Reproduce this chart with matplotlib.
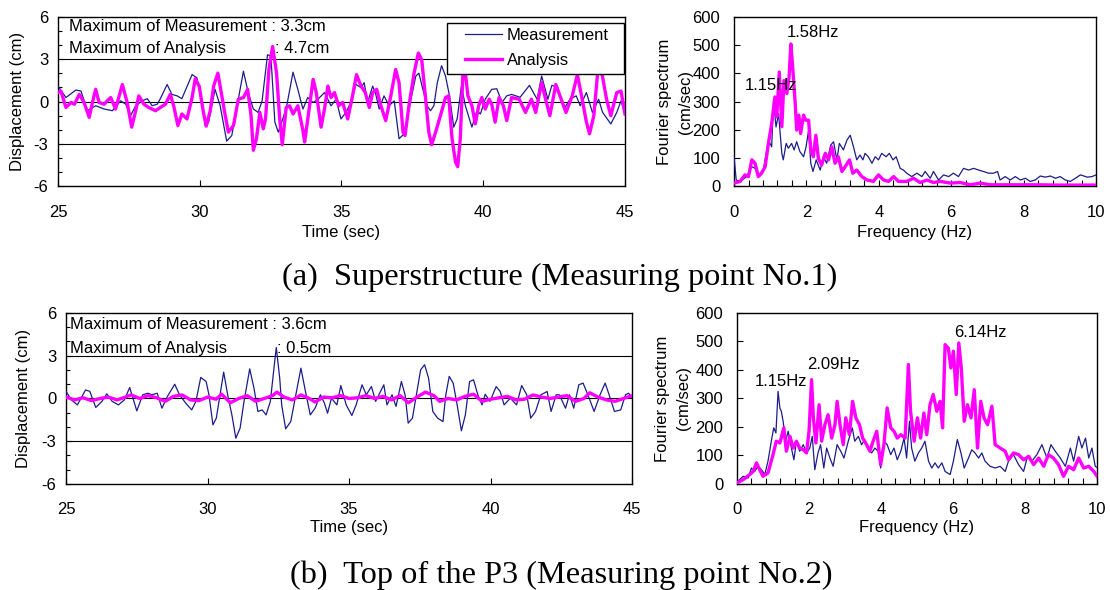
import matplotlib
matplotlib.use("Agg")
import matplotlib.pyplot as plt
from matplotlib.ticker import MultipleLocator
from matplotlib.patches import Rectangle

plt.rcParams['font.family'] = ['Liberation Sans', 'DejaVu Sans']
plt.rcParams['axes.unicode_minus'] = False

# ---- (a) superstructure, time history ----
top_meas_t = [25.0, 25.28, 25.63, 25.81, 26.04, 26.33, 26.63, 26.92, 27.21, 27.39,
              27.56, 27.74, 27.97, 28.15, 28.32, 28.5, 28.6, 28.85, 29.02, 29.2,
              29.37, 29.73, 29.9, 30.08, 30.19, 30.31, 30.54, 30.72, 30.95, 31.13,
              31.36, 31.54, 31.71, 31.89, 32.06, 32.2, 32.39, 32.51, 32.65, 32.77,
              32.9, 33.05, 33.29, 33.46, 33.64, 33.81, 34.0, 34.17, 34.4, 34.63,
              34.81, 34.98, 35.16, 35.33, 35.51, 35.69, 35.8, 35.92, 36.1, 36.21,
              36.33, 36.5, 36.68, 36.86, 37.03, 37.21, 37.44, 37.62, 37.73, 37.87,
              38.02, 38.14, 38.26, 38.38, 38.53, 38.67, 38.81, 38.96, 39.08, 39.23,
              39.37, 39.6, 39.78, 39.9, 40.07, 40.3, 40.48, 40.66, 40.83, 41.0,
              41.3, 41.63, 41.9, 42.06, 42.28, 42.42, 42.63, 42.85, 43.06, 43.28,
              43.42, 43.64, 43.85, 44.07, 44.21, 44.5, 44.71, 44.86, 45.0]
top_meas_v = [1.09, 0.28, 0.81, 0.74, -0.65, -0.3, -0.53, -0.65, 0.05, -0.19,
              -1.0, -0.3, 0.05, 0.2, -0.3, -0.19, 0.16, 1.2, 0.5, 0.4,
              0.2, 1.9, 1.67, -0.07, -1.7, -1.46, 0.86, -0.3, -2.8, -2.4,
              0.16, 2.14, 0.63, -0.53, -0.77, 0.05, 3.3, 3.2, -1.46, -2.16,
              -1.4, -0.5, 2.07, 0.86, -0.53, 0.28, -0.07, 0.16, 0.63, -0.3,
              0.16, -1.23, -0.77, -0.07, 1.2, 0.98, 1.33, -0.07, 1.09, 0.5,
              -0.53, 0.4, -0.3, 0.05, -2.63, -2.28, 0.05, 1.79, 2.0, 0.86,
              -0.3, -0.65, -0.3, 1.33, 2.53, 1.79, 0.4, -1.81, -1.23, 1.09,
              -0.3, -1.81, -0.65, -0.88, 0.16, 0.86, 0.9, -0.07, 0.4, 0.5,
              0.3, 1.14, 0.16, 1.8, 0.16, 1.14, 1.0, -0.53, 0.16, 0.4,
              -0.3, 0.63, -0.77, 0.16, -0.77, -1.58, -0.77, 0.05, -0.88]

top_anal_t = [25.0, 25.1, 25.28, 25.46, 25.58, 25.75, 25.92, 26.1, 26.27, 26.33,
              26.45, 26.63, 26.74, 26.86, 27.03, 27.27, 27.44, 27.6, 27.74, 27.85,
              28.03, 28.2, 28.44, 28.61, 28.79, 28.96, 29.08, 29.23, 29.37, 29.55,
              29.73, 29.84, 29.98, 30.13, 30.23, 30.37, 30.49, 30.64, 30.76, 30.9,
              31.01, 31.19, 31.36, 31.54, 31.69, 31.81, 31.89, 32.0, 32.12, 32.24,
              32.32, 32.44, 32.57, 32.71, 32.82, 32.91, 33.05, 33.17, 33.29, 33.46,
              33.64, 33.7, 33.81, 34.0, 34.11, 34.28, 34.4, 34.52, 34.63, 34.75,
              34.9, 35.04, 35.22, 35.39, 35.53, 35.69, 35.84, 35.98, 36.1, 36.24,
              36.39, 36.56, 36.74, 36.91, 37.03, 37.17, 37.24, 37.38, 37.56, 37.71,
              37.83, 37.97, 38.08, 38.18, 38.32, 38.49, 38.67, 38.78, 38.9, 39.02,
              39.1, 39.19, 39.28, 39.33, 39.46, 39.6, 39.72, 39.84, 39.95, 40.07,
              40.21, 40.3, 40.42, 40.56, 40.71, 40.83, 41.0, 41.27, 41.49, 41.7,
              41.85, 42.06, 42.2, 42.35, 42.56, 42.75, 42.92, 43.14, 43.32, 43.49,
              43.64, 43.75, 43.9, 44.04, 44.14, 44.35, 44.5, 44.71, 44.86, 45.0]
top_anal_v = [0.63, 0.74, -0.42, -0.07, -0.19, 0.5, -0.07, -1.12, 0.4, 0.86,
              -0.07, -0.19, 0.05, 0.28, -0.53, 1.2, -0.07, -1.81, -0.65, 0.4,
              -0.19, -0.42, -0.65, -0.42, -0.19, 0.5, -0.3, -1.7, -0.88, -1.23,
              0.28, 1.6, 1.09, -0.77, -1.74, -0.65, 1.09, 2.0, 0.63, -1.0,
              -2.16, -1.7, 0.16, 0.28, 0.86, -1.0, -3.44, -2.63, -0.77, -1.93,
              -1.23, 2.26, 3.88, 2.0, -1.23, -3.05, -0.42, -0.3, -0.88, -0.3,
              -2.05, -2.86, -1.23, 1.56, 0.63, -1.81, -0.53, 1.09, 0.28, 0.63,
              -0.3, -0.07, -1.23, 0.4, 1.9, 1.09, 0.63, -0.42, 0.63, 0.86,
              -0.3, -1.35, 0.4, 2.26, 1.33, -2.16, -2.4, -0.3, 2.0, 3.42,
              2.95, 0.16, -2.16, -3.05, -2.16, -1.0, 0.28, 0.4, -2.63, -4.26,
              -4.6, -2.63, 1.79, 2.72, 0.4, -0.3, -1.58, -0.3, 0.28, -0.53,
              0.16, -0.19, -1.46, 0.28, -0.3, -1.35, 0.28, 0.16, -0.77, 0.16,
              -0.77, 1.33, 0.16, -1.0, 1.2, 0.16, -0.77, 0.4, 1.9, 0.16,
              -1.46, -2.28, -1.0, 2.14, 2.5, 0.16, -1.0, 0.63, 0.74, -0.88]

# ---- (a) Fourier spectra ----
top_fm_f = [0, 0.06, 0.17, 0.35, 0.49, 0.58, 0.67, 0.81, 0.95, 1.04, 1.09, 1.16, 1.23,
            1.32, 1.36, 1.44, 1.5, 1.59, 1.66, 1.73, 1.82, 1.92, 1.99, 2.06, 2.12, 2.18,
            2.27, 2.38, 2.47, 2.56, 2.67, 2.75, 2.84, 2.91, 3.02, 3.12, 3.21, 3.3, 3.39,
            3.48, 3.56, 3.62, 3.71, 3.81, 3.9, 3.99, 4.08, 4.2, 4.29, 4.39, 4.48, 4.59,
            4.68, 4.77, 4.91, 5.05, 5.19, 5.28, 5.42, 5.51, 5.65, 5.79, 5.93, 6.06, 6.2,
            6.34, 6.48, 6.62, 6.76, 6.89, 7.03, 7.17, 7.28, 7.35, 7.49, 7.63, 7.77, 7.91,
            8.05, 8.18, 8.32, 8.46, 8.6, 8.74, 8.88, 9.01, 9.15, 9.29, 9.43, 9.57, 9.76,
            9.89, 10.0]
top_fm_v = [105, 23, 18, 35, 70, 64, 41, 58, 164, 140, 304, 210, 257,
            117, 94, 152, 135, 152, 129, 158, 123, 105, 140, 199, 82, 53,
            94, 58, 105, 82, 146, 158, 94, 152, 129, 164, 181, 140, 94,
            111, 94, 117, 105, 82, 105, 94, 117, 105, 117, 94, 105, 64,
            58, 47, 35, 47, 35, 53, 29, 53, 23, 41, 35, 47, 35,
            64, 58, 64, 58, 53, 47, 47, 53, 23, 35, 23, 35, 23,
            29, 18, 23, 37, 33, 37, 29, 35, 23, 18, 29, 41, 33,
            35, 41]

top_fa_f = [0, 0.17, 0.3, 0.4, 0.49, 0.58, 0.67, 0.76, 0.86, 0.95, 1.04, 1.13, 1.18,
            1.25, 1.32, 1.38, 1.46, 1.52, 1.57, 1.62, 1.69, 1.73, 1.79, 1.84, 1.92, 1.98,
            2.06, 2.12, 2.19, 2.26, 2.33, 2.42, 2.52, 2.61, 2.7, 2.79, 2.88, 2.98, 3.07,
            3.19, 3.28, 3.39, 3.53, 3.67, 3.85, 3.99, 4.13, 4.27, 4.41, 4.54, 4.77, 4.96,
            5.14, 5.33, 5.51, 5.7, 5.97, 6.25, 6.53, 6.8, 7.08, 7.54, 8.0, 8.46, 8.92,
            9.38, 10.0]
top_fa_v = [12, 18, 41, 35, 94, 82, 35, 47, 70, 152, 222, 316, 246,
            404, 211, 374, 328, 386, 503, 421, 293, 199, 252, 187, 252, 234,
            234, 129, 105, 181, 99, 76, 117, 94, 140, 82, 105, 53, 70,
            94, 47, 58, 35, 23, 18, 41, 23, 18, 35, 18, 18, 29,
            14, 23, 14, 18, 12, 14, 6, 12, 6, 6, 6, 6, 5,
            5, 5]

# ---- (b) top of P3, time history ----
bot_meas_t = [25.0, 25.19, 25.4, 25.69, 25.84, 26.05, 26.27, 26.44, 26.63, 26.85,
              27.06, 27.25, 27.5, 27.71, 27.89, 28.03, 28.22, 28.39, 28.58, 28.84,
              29.01, 29.23, 29.44, 29.59, 29.76, 29.95, 30.05, 30.19, 30.31, 30.57,
              30.71, 30.86, 31.0, 31.15, 31.29, 31.49, 31.64, 31.78, 31.93, 32.07,
              32.22, 32.36, 32.43, 32.55, 32.62, 32.76, 32.94, 33.12, 33.3, 33.46,
              33.63, 33.8, 33.99, 34.13, 34.24, 34.38, 34.57, 34.71, 34.9, 35.1,
              35.25, 35.46, 35.61, 35.79, 35.94, 36.11, 36.23, 36.34, 36.52, 36.66,
              36.85, 36.98, 37.09, 37.24, 37.38, 37.53, 37.67, 37.81, 37.96, 38.13,
              38.32, 38.42, 38.54, 38.68, 38.82, 38.97, 39.11, 39.26, 39.4, 39.55,
              39.7, 39.81, 39.98, 40.2, 40.34, 40.48, 40.7, 40.92, 41.1, 41.28,
              41.42, 41.59, 41.78, 42.0, 42.14, 42.32, 42.43, 42.65, 42.79, 42.94,
              43.12, 43.27, 43.44, 43.66, 43.87, 44.05, 44.19, 44.38, 44.6, 44.77,
              44.88, 45.0]
bot_meas_v = [0.5, -0.1, -0.45, 0.6, 0.5, -0.63, -0.2, 0.33, -0.2, -0.45,
              -0.1, 0.77, -0.87, 0.26, 0.37, 0.26, 0.37, -0.68, 0.14, 1.0,
              0.26, -0.33, -0.8, -0.2, 1.48, 1.19, 0.26, -1.85, -1.38, 1.85,
              0.26, -1.15, -2.79, -2.08, -0.2, 2.08, 0.73, -0.91, -0.8, -1.15,
              -0.2, 2.37, 3.58, 1.43, -0.45, -2.13, -1.62, 0.26, 2.13, 0.49,
              -1.15, -0.68, 0.26, -0.33, -1.03, 0.02, -0.45, 0.91, -0.45, -1.19,
              -0.45, 0.96, 0.26, 0.84, -0.2, 0.49, 0.96, -0.45, 0.26, -0.56,
              1.19, 0.26, -1.73, -1.38, 0.26, 2.01, 2.37, 1.43, -0.91, -1.38,
              -1.62, 0.26, 1.55, 1.08, -0.45, -2.27, -1.15, 1.19, 1.31, 0.26,
              -0.45, 0.3, -0.2, 0.84, 0.49, -0.45, 0.02, -0.45, 0.91, 0.26,
              -1.38, -0.91, 0.26, 0.49, -0.91, 0.26, 0.26, -0.68, 0.26, -0.68,
              0.96, 1.08, 0.26, -0.91, 0.26, 1.08, 0.26, -0.91, -0.8, 0.26,
              0.37, 0.02]

bot_anal_t = [25.0, 25.3, 25.6, 25.9, 26.2, 26.5, 26.8, 27.1, 27.3, 27.6,
              27.9, 28.2, 28.5, 28.8, 29.1, 29.4, 29.7, 30.0, 30.3, 30.5,
              30.8, 31.1, 31.4, 31.7, 32.0, 32.3, 32.45, 32.7, 33.0, 33.3,
              33.6, 33.8, 34.1, 34.4, 34.7, 35.0, 35.3, 35.6, 35.9, 36.2,
              36.5, 36.8, 37.1, 37.4, 37.7, 38.0, 38.2, 38.5, 38.8, 39.1,
              39.4, 39.7, 40.0, 40.3, 40.6, 40.9, 41.2, 41.5, 41.8, 42.1,
              42.4, 42.7, 43.0, 43.3, 43.5, 43.8, 44.1, 44.4, 44.7, 45.0]
bot_anal_v = [0.1, -0.1, 0.05, -0.15, 0.0, 0.1, -0.1, 0.1, 0.25, 0.0,
              0.2, 0.05, -0.2, 0.15, 0.25, -0.1, -0.15, 0.1, -0.05, 0.3,
              -0.3, 0.0, 0.2, -0.2, 0.0, 0.2, 0.45, 0.1, -0.1, 0.25,
              0.0, -0.25, 0.1, 0.05, 0.2, 0.0, 0.05, 0.2, 0.0, 0.15,
              -0.1, 0.2, -0.3, 0.1, 0.45, 0.2, -0.2, 0.0, -0.1, 0.15,
              0.3, -0.2, -0.05, 0.05, 0.15, -0.1, -0.05, 0.25, 0.1, 0.0,
              0.1, 0.2, -0.2, 0.0, 0.4, 0.1, -0.1, -0.2, 0.0, 0.2]

# ---- (b) Fourier spectra ----
bot_fm_f = [0, 0.17, 0.31, 0.4, 0.49, 0.58, 0.68, 0.77, 0.86, 0.96, 1.02, 1.08, 1.14,
            1.19, 1.23, 1.28, 1.35, 1.42, 1.51, 1.58, 1.65, 1.74, 1.84, 1.93, 2.02, 2.09,
            2.16, 2.25, 2.32, 2.41, 2.49, 2.58, 2.67, 2.78, 2.88, 2.97, 3.09, 3.2, 3.27,
            3.37, 3.46, 3.55, 3.65, 3.74, 3.83, 3.92, 3.99, 4.08, 4.17, 4.27, 4.36, 4.45,
            4.55, 4.64, 4.71, 4.79, 4.85, 4.94, 5.04, 5.13, 5.22, 5.32, 5.41, 5.5, 5.59,
            5.69, 5.78, 5.92, 6.01, 6.12, 6.22, 6.31, 6.43, 6.52, 6.61, 6.71, 6.8, 6.89,
            7.03, 7.17, 7.31, 7.45, 7.54, 7.68, 7.82, 7.96, 8.07, 8.19, 8.33, 8.47, 8.61,
            8.72, 8.84, 8.98, 9.12, 9.26, 9.35, 9.49, 9.58, 9.68, 9.77, 9.86, 9.95, 10.0]
bot_fm_v = [7, 27, 21, 56, 44, 62, 50, 33, 80, 156, 197, 179, 325,
            267, 255, 220, 150, 185, 126, 85, 150, 115, 138, 109, 126, 167,
            50, 109, 138, 56, 126, 91, 62, 138, 115, 91, 150, 197, 150,
            167, 138, 156, 120, 109, 126, 115, 56, 150, 138, 103, 126, 85,
            115, 161, 91, 220, 126, 80, 109, 126, 150, 80, 56, 74, 56,
            74, 44, 33, 80, 156, 109, 56, 91, 120, 109, 91, 109, 80,
            62, 56, 62, 44, 80, 103, 68, 44, 97, 80, 103, 138, 91,
            138, 115, 91, 62, 126, 80, 167, 126, 161, 91, 126, 62, 58]

bot_fa_f = [0, 0.17, 0.35, 0.45, 0.54, 0.63, 0.72, 0.86, 1.0, 1.09, 1.19, 1.3, 1.37,
            1.47, 1.56, 1.65, 1.74, 1.84, 1.93, 2.0, 2.07, 2.12, 2.19, 2.28, 2.35, 2.44,
            2.53, 2.63, 2.72, 2.78, 2.86, 2.95, 3.02, 3.12, 3.21, 3.3, 3.4, 3.49, 3.6,
            3.69, 3.78, 3.88, 3.99, 4.08, 4.17, 4.27, 4.36, 4.45, 4.55, 4.67, 4.76, 4.82,
            4.92, 5.01, 5.1, 5.19, 5.27, 5.36, 5.45, 5.55, 5.64, 5.71, 5.78, 5.87, 5.94,
            6.01, 6.09, 6.16, 6.23, 6.31, 6.4, 6.5, 6.59, 6.68, 6.77, 6.86, 6.96, 7.08,
            7.17, 7.31, 7.45, 7.54, 7.68, 7.82, 7.96, 8.1, 8.24, 8.38, 8.52, 8.65, 8.79,
            8.93, 9.07, 9.21, 9.35, 9.49, 9.63, 9.77, 9.91, 10.0]
bot_fa_v = [4, 15, 33, 44, 74, 50, 27, 39, 103, 150, 144, 197, 115,
            167, 126, 150, 126, 120, 109, 185, 366, 232, 144, 278, 150, 208,
            243, 161, 208, 290, 208, 138, 232, 173, 290, 232, 208, 161, 138,
            115, 150, 185, 68, 138, 267, 197, 185, 161, 173, 161, 419, 255,
            150, 232, 161, 249, 173, 278, 314, 255, 290, 197, 489, 477, 407,
            466, 314, 495, 407, 220, 278, 232, 331, 126, 290, 232, 208, 273,
            138, 126, 115, 85, 109, 103, 85, 97, 68, 91, 62, 103, 91,
            68, 27, 62, 50, 91, 56, 62, 44, 27]

blue = '#1c1c8a'
pink = '#ff00ff'

fig = plt.figure(figsize=(11.1, 5.9), dpi=100)
ax1 = fig.add_axes([0.05225, 0.6839, 0.5108, 0.2881])
ax2 = fig.add_axes([0.6613, 0.6839, 0.3261, 0.2881])
ax3 = fig.add_axes([0.0595, 0.1797, 0.5099, 0.2898])
ax4 = fig.add_axes([0.6640, 0.1797, 0.3243, 0.2898])


def time_axes(ax, meas_t, meas_v, anal_t, anal_v):
    for yy in (3, 0, -3):
        ax.axhline(yy, color='black', lw=0.8, zorder=1)
    ax.plot(meas_t, meas_v, color=blue, lw=0.9, label='Measurement', zorder=3,
            solid_joinstyle='round')
    ax.plot(anal_t, anal_v, color=pink, lw=2.4, label='Analysis', zorder=4,
            solid_joinstyle='round')
    ax.set_xlim(25, 45)
    ax.set_ylim(-6, 6)
    ax.set_xticks([25, 30, 35, 40, 45])
    ax.set_yticks([-6, -3, 0, 3, 6])
    ax.yaxis.set_minor_locator(MultipleLocator(1))
    ax.tick_params(direction='in', length=4, width=0.8, labelsize=12)
    ax.tick_params(axis='x', pad=13)
    ax.tick_params(axis='y', pad=7)
    ax.tick_params(which='minor', direction='in', length=3, width=0.8)
    ax.set_xlabel('Time (sec)', fontsize=12)
    ax.set_ylabel('Displacement (cm)', fontsize=12)
    for s in ax.spines.values():
        s.set_linewidth(1.0)


def spec_axes(ax, mf, mv, af, av):
    ax.plot(mf, mv, color=blue, lw=0.9, zorder=3)
    ax.plot(af, av, color=pink, lw=2.4, zorder=4, solid_joinstyle='round')
    ax.set_xlim(0, 10)
    ax.set_ylim(0, 600)
    ax.set_xticks([0, 2, 4, 6, 8, 10])
    ax.set_yticks(range(0, 601, 100))
    ax.xaxis.set_minor_locator(MultipleLocator(0.4))
    ax.tick_params(direction='in', length=4, width=0.8, labelsize=12)
    ax.tick_params(axis='x', pad=13)
    ax.tick_params(axis='y', pad=10)
    ax.tick_params(which='minor', direction='in', length=4, width=0.8)
    ax.set_xlabel('Frequency (Hz)', fontsize=12)
    ax.set_ylabel('Fourier spectrum\n(cm/sec)', fontsize=12, linespacing=1.5)
    for s in ax.spines.values():
        s.set_linewidth(1.0)


time_axes(ax1, top_meas_t, top_meas_v, top_anal_t, top_anal_v)
spec_axes(ax2, top_fm_f, top_fm_v, top_fa_f, top_fa_v)
time_axes(ax3, bot_meas_t, bot_meas_v, bot_anal_t, bot_anal_v)
spec_axes(ax4, bot_fm_f, bot_fm_v, bot_fa_f, bot_fa_v)

ax1.yaxis.set_label_coords(-0.058, 0.5)
ax1.xaxis.set_label_coords(0.5, -0.225)
ax2.yaxis.set_label_coords(-0.113, 0.5)
ax2.xaxis.set_label_coords(0.5, -0.225)
ax3.yaxis.set_label_coords(-0.062, 0.5)
ax3.xaxis.set_label_coords(0.5, -0.21)
ax4.yaxis.set_label_coords(-0.128, 0.5)
ax4.xaxis.set_label_coords(0.5, -0.21)

# legend box (white, square corners) with the entries laid on it
box = Rectangle((0.686, 0.662), 0.312, 0.300, transform=ax1.transAxes,
                facecolor='white', edgecolor='black', lw=1.0, zorder=9)
ax1.add_patch(box)
leg = ax1.legend(loc='upper left', bbox_to_anchor=(0.718, 0.935), borderaxespad=0,
                 borderpad=0, fontsize=12, handlelength=2.2, handletextpad=0.3,
                 frameon=False, labelspacing=0.6)
leg.set_zorder(10)

# maximum value notes
ax1.text(0.019, 0.94, 'Maximum of Measurement : 3.3cm', transform=ax1.transAxes,
         fontsize=12, va='center', zorder=6)
ax1.text(0.019, 0.81, 'Maximum of Analysis', transform=ax1.transAxes,
         fontsize=12, va='center', zorder=6)
ax1.text(0.383, 0.81, ': 4.7cm', transform=ax1.transAxes, fontsize=12, va='center', zorder=6)
ax3.text(0.007, 0.93, 'Maximum of Measurement : 3.6cm', transform=ax3.transAxes,
         fontsize=12, va='center', zorder=6)
ax3.text(0.007, 0.795, 'Maximum of Analysis', transform=ax3.transAxes,
         fontsize=12, va='center', zorder=6)
ax3.text(0.373, 0.795, ': 0.5cm', transform=ax3.transAxes, fontsize=12, va='center', zorder=6)

# peak frequency notes
ax2.text(2.18, 543, '1.58Hz', fontsize=12, ha='center', va='center', zorder=6)
ax2.text(1.02, 355, '1.15Hz', fontsize=12, ha='center', va='center', zorder=6)
ax4.text(1.22, 358, '1.15Hz', fontsize=12, ha='center', va='center', zorder=6)
ax4.text(2.69, 418, '2.09Hz', fontsize=12, ha='center', va='center', zorder=6)
ax4.text(6.75, 530, '6.14Hz', fontsize=12, ha='center', va='center', zorder=6)

fig.text(0.5045, 0.5305, '(a)  Superstructure (Measuring point No.1)', fontsize=23.3,
         family='Liberation Serif', ha='center', va='center')
fig.text(0.506, 0.0245, '(b)  Top of the P3 (Measuring point No.2)', fontsize=23.3,
         family='Liberation Serif', ha='center', va='center')

fig.savefig('out.png', dpi=100)
